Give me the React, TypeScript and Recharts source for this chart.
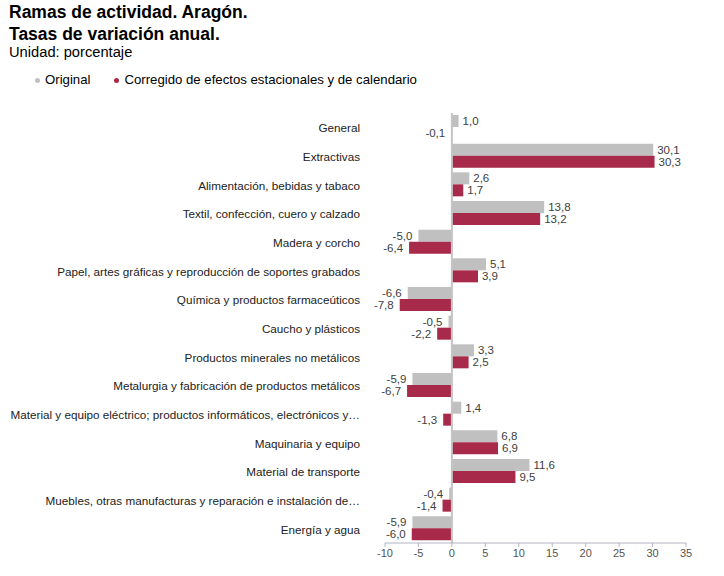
import React from "react";
import { BarChart, Bar, XAxis, YAxis, ReferenceLine, LabelList } from "recharts";

const categories = [
  "General",
  "Extractivas",
  "Alimentación, bebidas y tabaco",
  "Textil, confección, cuero y calzado",
  "Madera y corcho",
  "Papel, artes gráficas y reproducción de soportes grabados",
  "Química y productos farmaceúticos",
  "Caucho y plásticos",
  "Productos minerales no metálicos",
  "Metalurgia y fabricación de productos metálicos",
  "Material y equipo eléctrico; productos informáticos, electrónicos y…",
  "Maquinaria y equipo",
  "Material de transporte",
  "Muebles, otras manufacturas y reparación e instalación de…",
  "Energía y agua",
];

const original = [1.0, 30.1, 2.6, 13.8, -5.0, 5.1, -6.6, -0.5, 3.3, -5.9, 1.4, 6.8, 11.6, -0.4, -5.9];
const corregido = [-0.1, 30.3, 1.7, 13.2, -6.4, 3.9, -7.8, -2.2, 2.5, -6.7, -1.3, 6.9, 9.5, -1.4, -6.0];

const xTicks = [-10, -5, 0, 5, 10, 15, 20, 25, 30, 35];

const GREY = "#c0c0c0";
const RED = "#a82a4a";
const FONT = "'Liberation Sans', Arial, sans-serif";

const data = categories.map((name, i) => ({
  name,
  original: original[i],
  corregido: corregido[i],
}));

const fmt = (v: number) => v.toFixed(1).replace(".", ",");

const ValueLabel = (props: any) => {
  const { x, y, width, height, value } = props;
  const v = Number(value);
  const a = Number(x);
  const b = Number(x) + Number(width);
  const end = v >= 0 ? Math.max(a, b) : Math.min(a, b);
  const tx = v >= 0 ? end + 4 : end - 6;
  return (
    <text
      x={tx}
      y={Number(y) + Number(height) / 2}
      dy="0.36em"
      textAnchor={v >= 0 ? "start" : "end"}
      fontSize={11.5}
      fontFamily={FONT}
      fill="#404040"
    >
      {fmt(v)}
    </text>
  );
};

// Category names on one line, right-aligned against the plot
const CategoryTick = (props: any) => {
  const { x, y, payload } = props;
  return (
    <text
      x={Number(x)}
      y={Number(y)}
      dy="0.42em"
      textAnchor="end"
      fontSize={11.7}
      fontFamily={FONT}
      fill="#222"
    >
      {payload.value}
    </text>
  );
};

const LegendItem = ({ color, label, gap }: { color: string; label: string; gap: number }) => (
  <span style={{ display: "inline-flex", alignItems: "center", marginRight: gap }}>
    <span
      style={{
        width: 5,
        height: 5,
        borderRadius: "50%",
        background: color,
        display: "inline-block",
        marginRight: 5,
      }}
    />
    {label}
  </span>
);

export default function App() {
  return (
    <div
      style={{
        position: "absolute",
        left: 0,
        top: 0,
        width: 724,
        height: 576,
        background: "#fff",
        fontFamily: FONT,
        color: "#000",
      }}
    >
      <div style={{ position: "absolute", left: 9, top: 1, fontSize: 17.5, fontWeight: "bold", lineHeight: "22px" }}>
        Ramas de actividad. Aragón.
        <br />
        Tasas de variación anual.
      </div>
      <div style={{ position: "absolute", left: 9, top: 44, fontSize: 14.7, lineHeight: "17px" }}>
        Unidad: porcentaje
      </div>
      <div
        style={{
          position: "absolute",
          left: 35,
          top: 72,
          fontSize: 13.2,
          lineHeight: "16px",
          display: "flex",
        }}
      >
        <LegendItem color={GREY} label="Original" gap={24} />
        <LegendItem color={RED} label="Corregido de efectos estacionales y de calendario" gap={0} />
      </div>
      <div style={{ position: "absolute", left: 0, top: 0 }}>
        <BarChart
          width={724}
          height={576}
          data={data}
          layout="vertical"
          margin={{ top: 113, right: 38, bottom: 0, left: 0 }}
          barGap={0}
          barSize={12}
        >
          <XAxis
            type="number"
            domain={[-10, 35]}
            ticks={xTicks}
            allowDataOverflow
            height={33}
            tickSize={4}
            tickMargin={2}
            stroke="#b4b4c4"
            tick={{ fill: "#555", fontSize: 11, fontFamily: FONT }}
          />
          <YAxis
            type="category"
            dataKey="name"
            width={385}
            axisLine={false}
            tickLine={false}
            tickSize={0}
            tickMargin={25}
            interval={0}
            tick={<CategoryTick />}
          />
          <Bar dataKey="original" fill={GREY} isAnimationActive={false}>
            <LabelList dataKey="original" content={ValueLabel} />
          </Bar>
          <Bar dataKey="corregido" fill={RED} isAnimationActive={false}>
            <LabelList dataKey="corregido" content={ValueLabel} />
          </Bar>
          <ReferenceLine x={0} stroke="#c4c4c4" strokeWidth={2} />
        </BarChart>
      </div>
    </div>
  );
}
